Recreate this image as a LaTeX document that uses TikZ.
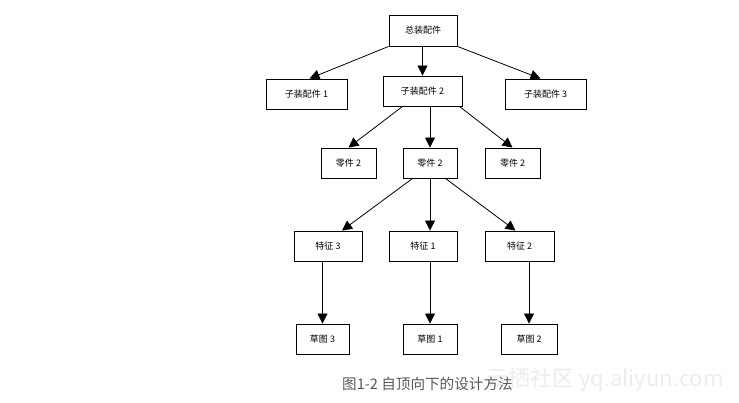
\documentclass[tikz,border=0pt]{standalone}
\usepackage{fontspec}
\newfontfamily\cjk{Noto Sans CJK SC}
\usetikzlibrary{arrows.meta,calc}
\begin{document}
\begin{tikzpicture}[x=1pt,y=-1pt,
  box/.style={draw=black,line width=0.9pt,fill=white,inner sep=0pt,minimum height=30pt,
    font=\cjk\fontsize{9}{10}\selectfont},
  conn/.style={draw=black,line width=0.8pt,-{Triangle[length=10pt,width=10pt]}}]
\useasboundingbox[fill=white] (0,0) rectangle (739,402);
\node[box,minimum width=68pt,minimum height=31pt] (top) at (423,30.5) {总装配件};
\node[box,minimum width=81pt] (s1) at (306.5,94) {子装配件 1};
\node[box,minimum width=79pt] (s2) at (422.5,91) {子装配件 2};
\node[box,minimum width=81pt] (s3) at (545.5,94) {子装配件 3};
\node[box,minimum width=55pt] (p1) at (348.5,163) {零件 2};
\node[box,minimum width=54pt] (p2) at (430,163) {零件 2};
\node[box,minimum width=55pt] (p3) at (512.5,163) {零件 2};
\node[box,minimum width=68pt] (f3) at (328,246) {特征 3};
\node[box,minimum width=68pt] (f1) at (423,246) {特征 1};
\node[box,minimum width=69pt] (f2) at (519.5,246) {特征 2};
\node[box,minimum width=53pt] (d3) at (322.5,339) {草图 3};
\node[box,minimum width=54pt] (d1) at (430,339) {草图 1};
\node[box,minimum width=56pt] (d2) at (529,339) {草图 2};
% level 1 -> 2
\draw[conn] (top.south west) -- ($(s1.north)+(3,0)$);
\draw[conn] (top.south -| s2.north) -- (s2.north);
\draw[conn] (top.south east) -- ($(s3.north)+(-5,0)$);
% level 2 -> 3
\draw[conn] ($(s2.south west)+(20,0)$) -- (p1.north);
\draw[conn] (s2.south -| p2.north) -- (p2.north);
\draw[conn] ($(s2.south east)+(-3,0)$) -- (p3.north);
% level 3 -> 4
\draw[conn] ($(p2.south west)+(10,0)$) -- ($(f3.north)+(14,0)$);
\draw[conn] (p2.south) -- (p2.south |- f1.north);
\draw[conn] ($(p2.south east)+(-12,0)$) -- ($(f2.north)+(-4,0)$);
% level 4 -> 5
\draw[conn] (f3.south -| d3.north) -- (d3.north);
\draw[conn] (f1.south -| d1.north) -- (d1.north);
\draw[conn] (f2.south -| d2.north) -- (d2.north);
% caption
\node[font=\cjk\fontsize{22}{24}\selectfont,text=gray!14,anchor=west,inner sep=0pt] (wm) at (486,380) {云栖社区 yq.aliyun.com};
\node[font=\cjk\fontsize{14.6}{17}\selectfont,text=black!65,anchor=west,inner sep=0pt] (cap) at (342,384) {图1-2 自顶向下的设计方法};
\end{tikzpicture}
\end{document}
